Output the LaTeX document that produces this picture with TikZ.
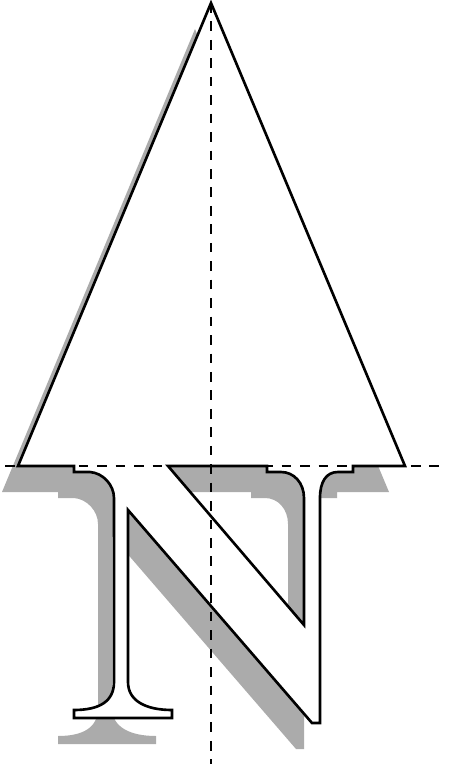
\documentclass[tikz,border=0pt]{standalone}
\usepackage{tikz}
\definecolor{shadowgray}{RGB}{171,171,171}

% outline of the arrow head and the letter, with the hole of the N
\newcommand{\northoutline}{%
  (211,3) -- (18,466) -- (74,466) -- (74,472) -- (90,472)
  .. controls (103,473) and (114,485) .. (114,498)
  -- (114,682) .. controls (114,701) and (100,710) .. (74,710)
  -- (74,718) -- (172,718) -- (172,710)
  .. controls (146,710) and (128,701) .. (128,682)
  -- (128,510) -- (312,723) -- (320,723) -- (320,498)
  .. controls (320,482) and (326,472) .. (338,472)
  -- (353,472) -- (353,466) -- (405,466) -- cycle
  (168,466) -- (267,466) -- (267,472) -- (281,472)
  .. controls (294,472) and (304,483) .. (304,498)
  -- (304,625) -- cycle}

\begin{document}
\begin{tikzpicture}[x=0.02cm, y=-0.02cm,
    outline/.style={line width=1.5pt, black, fill=white, even odd rule},
    shade/.style={shadowgray, even odd rule},
    axisline/.style={line width=0.7pt, black, dash pattern=on 5.5pt off 5pt}]

    % Frame
    \fill[white] (0,0) rectangle (451,764);
    \useasboundingbox (0,0) rectangle (451,764);

    % Shadow
    \fill[shade, shift={(-16,26)}] \northoutline;

    % Arrow head and letter
    \draw[outline] \northoutline;

    % Axes
    \draw[axisline] (211,3) -- (211,764);
    \draw[axisline] (5,466) -- (446,466);

\end{tikzpicture}
\end{document}
